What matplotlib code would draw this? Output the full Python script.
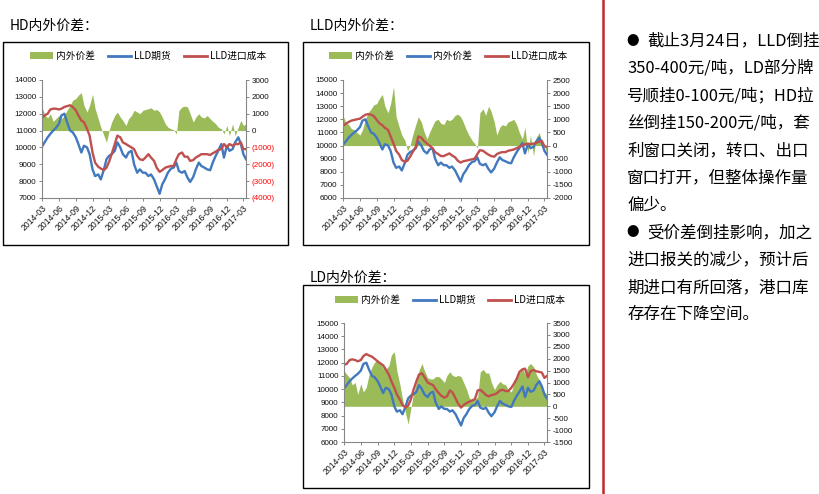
import matplotlib
matplotlib.use('Agg')
import matplotlib.pyplot as plt
from matplotlib.patches import Rectangle, Patch
from matplotlib.lines import Line2D
import pandas as pd

plt.rcParams['font.family'] = ['Noto Sans CJK SC', 'DejaVu Sans']
plt.rcParams['axes.unicode_minus'] = False

# semi-monthly sample dates, 2014-03 .. 2017-03
dates = pd.date_range('2014-03-01', periods=74, freq='SMS')
quarter_ticks = pd.date_range('2014-03-01', '2017-03-01', freq='3MS')

# LLD futures (same series in all three charts)
lld_futures = [10050, 10300, 10600, 10800, 11000, 11150, 11400, 11900, 12000, 11500,
               11000, 10900, 10600, 10200, 9700, 10100, 10000, 9600, 8700, 8300,
               8400, 8100, 8700, 9300, 9500, 9600, 9800, 10300, 10000, 9600,
               9400, 9700, 9800, 9000, 8500, 8700, 8500, 8500, 8300, 8400,
               8100, 7700, 7250, 7800, 8150, 8500, 8750, 8800, 9100, 8600,
               8500, 8600, 8200, 7950, 8250, 8700, 9100, 8900, 8800, 8700,
               8650, 9100, 9500, 9800, 10200, 9400, 10100, 9800, 9900, 10300,
               10600, 10200, 9600, 9300]

# HD chart
hd_spread = [1400, 950, 750, 1000, 550, 700, 900, 700, 900, 1200,
             1500, 1800, 1900, 2100, 2250, 1500, 1100, 1500, 2150, 1300,
             700, 200, -300, -700, 0, 500, 900, 1100, 800, 600,
             300, 700, 900, 1200, 1100, 1000, 1200, 1250, 1300, 1350,
             1200, 1250, 1100, 800, 400, 200, 100, 50, -200, 1200,
             1400, 1450, 1400, 1000, 500, 800, 1000, 800, 750, 900,
             700, 550, 400, 200, 100, -200, 300, -300, 400, -300,
             200, 600, 300, 400]
hd_cost = [11750, 11900, 12000, 12250, 12300, 12300, 12250, 12300, 12400, 12450,
           12500, 12400, 12200, 11900, 11600, 11500, 11100, 10700, 9700, 9100,
           8850, 8750, 8650, 8800, 9150, 9600, 10200, 10700, 10600, 10300,
           10200, 10100, 10000, 9900, 9500, 9300, 9250, 9400, 9600, 9400,
           9200, 8800, 8550, 8650, 8800, 8850, 8900, 8900, 9300, 9600,
           9700, 9450, 9450, 9200, 9250, 9400, 9500, 9600, 9600, 9600,
           9550, 9650, 9750, 9850, 9900, 10200, 10000, 10200, 10100, 10200,
           10200, 10300, 9900, 9900]

# LLD chart
lld_spread = [1150, 900, 800, 650, 600, 500, 400, 600, 1000, 1250,
              1400, 1550, 1600, 1800, 1950, 1500, 1250, 1600, 2250, 1100,
              700, 400, 200, -200, 0, 400, 800, 1100, 900, 550,
              250, 500, 750, 950, 1000, 850, 800, 1000, 950, 1000,
              1150, 1200, 1100, 900, 600, 400, 200, 80, -100, 1250,
              1400, 1150, 1500, 1300, 900, 400, 700, 800, 750, 900,
              950, 1000, 800, 500, 250, 700, -300, 400, -400, 300,
              500, 100, 0, -300]
lld_cost = [11500, 11650, 11800, 11900, 11950, 12000, 12050, 12200, 12350, 12400,
            12350, 12250, 11950, 11700, 11550, 11350, 11200, 10700, 10150, 9600,
            9300, 8900, 8750, 8850, 9150, 9500, 9900, 10700, 10600, 10350,
            10150, 10000, 9800, 9500, 9350, 9200, 9200, 9300, 9400, 9250,
            9100, 8850, 8700, 8800, 8850, 8900, 8950, 9000, 9350, 9650,
            9600, 9450, 9300, 9200, 9150, 9350, 9450, 9500, 9500, 9600,
            9650, 9700, 9800, 9900, 10000, 10100, 10150, 10100, 10150, 10200,
            10300, 10350, 9950, 9900]

# LD chart
ld_spread = [1500, 1350, 1200, 900, 1000, 500, 950, 600, 800, 1300,
             1650, 1850, 1950, 1800, 1600, 1550, 1700, 2150, 2300, 1500,
             900, 300, -300, -750, -100, 500, 1000, 1500, 1800, 1500,
             1200, 1150, 1150, 1250, 1250, 1150, 1000, 1300, 1450, 1300,
             1250, 1300, 1250, 1000, 700, 350, 250, 300, 400, 1450,
             1550, 1400, 1400, 1000, 700, 900, 1050, 950, 900, 700,
             600, 950, 1200, 1400, 1600, 1350, 1700, 1800, 1650, 1350,
             1100, 800, 600, 500]
ld_cost = [11850, 11900, 12200, 12250, 12200, 12100, 12200, 12500, 12650, 12550,
           12450, 12300, 12100, 11950, 11800, 11500, 11100, 10600, 10100, 9600,
           9200, 8800, 8600, 8750, 9200, 9900, 10600, 11100, 11200, 10900,
           10500, 10400, 10300, 10000, 9700, 9500, 9350, 9450, 9900, 9750,
           9300, 8900, 8600, 8800, 8950, 9050, 9150, 9250, 9900, 9950,
           9750, 9550, 9450, 9550, 9600, 9700, 9900, 9950, 9850, 9850,
           10100, 10400, 10800, 11300, 11500, 11550, 10900, 11350, 11450, 11350,
           11300, 11250, 10850, 11000]

GREEN = '#9BBB59'
BLUE = '#4178BE'
RED = '#C0504D'
GRAY = '#868686'
W, H = 819, 494

fig = plt.figure(figsize=(W / 100, H / 100), dpi=100)


def px_axes(x0, y0, x1, y1):
    return fig.add_axes([x0 / W, 1 - y1 / H, (x1 - x0) / W, (y1 - y0) / H])


def panel(box, axbox, title, title_y, legend_xy, labels, spread, futures, cost,
          ylim, ystep, rlim, rstep, paren=False):
    bx0, by0, bx1, by1 = box
    fig.patches.append(Rectangle((bx0 / W, 1 - by1 / H), (bx1 - bx0) / W, (by1 - by0) / H,
                                 transform=fig.transFigure, fill=False,
                                 edgecolor='black', lw=1))
    fig.text(bx0 / W + 0.008, 1 - title_y / H, title, fontsize=10, va='center')

    ax = px_axes(*axbox)
    ax2 = ax.twinx()
    ax2.fill_between(dates, 0, spread, color=GREEN, lw=0)
    ax.plot(dates, futures, color=BLUE, lw=1.7)
    ax.plot(dates, cost, color=RED, lw=1.7)
    ax.set_zorder(ax2.get_zorder() + 1)
    ax.patch.set_visible(False)

    ax.set_xlim(pd.Timestamp('2014-03-01'), pd.Timestamp('2017-03-15'))
    ax.set_ylim(*ylim)
    ax2.set_ylim(*rlim)

    lt = list(range(ylim[0], ylim[1] + 1, ystep))
    ax.set_yticks(lt)
    ax.set_yticklabels([str(v) for v in lt])
    rt = list(range(rlim[0], rlim[1] + 1, rstep))
    ax2.set_yticks(rt)
    if paren:
        rl = ['(%d)' % -v if v < 0 else str(v) for v in rt]
    else:
        rl = [str(v) for v in rt]
    ax2.set_yticklabels(rl)
    ax.set_xticks(quarter_ticks)
    ax.set_xticklabels([d.strftime('%Y-%m') for d in quarter_ticks],
                       rotation=45, ha='right', va='top', rotation_mode='anchor')

    for a in (ax, ax2):
        for s in a.spines.values():
            s.set_color(GRAY)
            s.set_linewidth(0.8)
        a.spines['top'].set_visible(False)
        a.tick_params(length=2.5, width=0.7, color=GRAY, labelsize=5.8, pad=1.5,
                      labelcolor='#111111')
        for t in a.get_xticklabels() + a.get_yticklabels():
            t.set_family(['Liberation Sans', 'DejaVu Sans'])
    ax.tick_params(axis='x', labelsize=6.2)
    ax.spines['right'].set_visible(False)
    ax2.spines['left'].set_visible(False)
    ax2.spines['bottom'].set_visible(False)
    if paren:
        for t in ax2.get_yticklabels():
            if t.get_text().startswith('('):
                t.set_color('red')

    handles = [Patch(facecolor=GREEN, edgecolor='none'),
               Line2D([], [], color=BLUE, lw=2),
               Line2D([], [], color=RED, lw=2)]
    ax.legend(handles, labels, ncol=3, loc='center',
              bbox_to_anchor=(legend_xy[0] / W, 1 - legend_xy[1] / H),
              bbox_transform=fig.transFigure, frameon=False, fontsize=7,
              handlelength=2.4, handleheight=0.7, columnspacing=1.3,
              handletextpad=0.3, borderpad=0)


panel((3, 42, 288, 245), (42, 80, 246, 198), 'HD内外价差：', 26, (148, 56),
      ['内外价差', 'LLD期货', 'LLD进口成本'], hd_spread, lld_futures, hd_cost,
      (7000, 14000), 1000, (-4000, 3000), 1000, paren=True)
panel((303, 42, 589, 245), (343, 80, 547, 198), 'LLD内外价差：', 26, (448, 56),
      ['内外价差', '内外价差', 'LLD进口成本'], lld_spread, lld_futures, lld_cost,
      (6000, 15000), 1000, (-2000, 2500), 500)
panel((303, 285, 589, 488), (344, 323, 547, 442), 'LD内外价差：', 278, (450, 300),
      ['内外价差', 'LLD期货', 'LD进口成本'], ld_spread, lld_futures, ld_cost,
      (6000, 15000), 1000, (-1500, 3500), 500)

# divider
fig.add_artist(Line2D([603 / W, 603 / W], [0, 1], color='#C1272D', lw=1.8,
                      transform=fig.transFigure))

notes = ['截止3月24日，LLD倒挂',
         '350-400元/吨，LD部分牌',
         '号顺挂0-100元/吨；HD拉',
         '丝倒挂150-200元/吨，套',
         '利窗口关闭，转口、出口',
         '窗口打开，但整体操作量',
         '偏少。',
         '受价差倒挂影响，加之',
         '进口报关的减少，预计后',
         '期进口有所回落，港口库',
         '存存在下降空间。']
bullets = [0, 7]
for i, line in enumerate(notes):
    y = 1 - (41 + 27.4 * i) / H
    if i in bullets:
        fig.text(626 / W, y, '●', fontsize=9, va='center')
        fig.text(647 / W, y, line, fontsize=11.9, va='center')
    else:
        fig.text(627 / W, y, line, fontsize=11.9, va='center')

fig.savefig('out.png', dpi=100)
